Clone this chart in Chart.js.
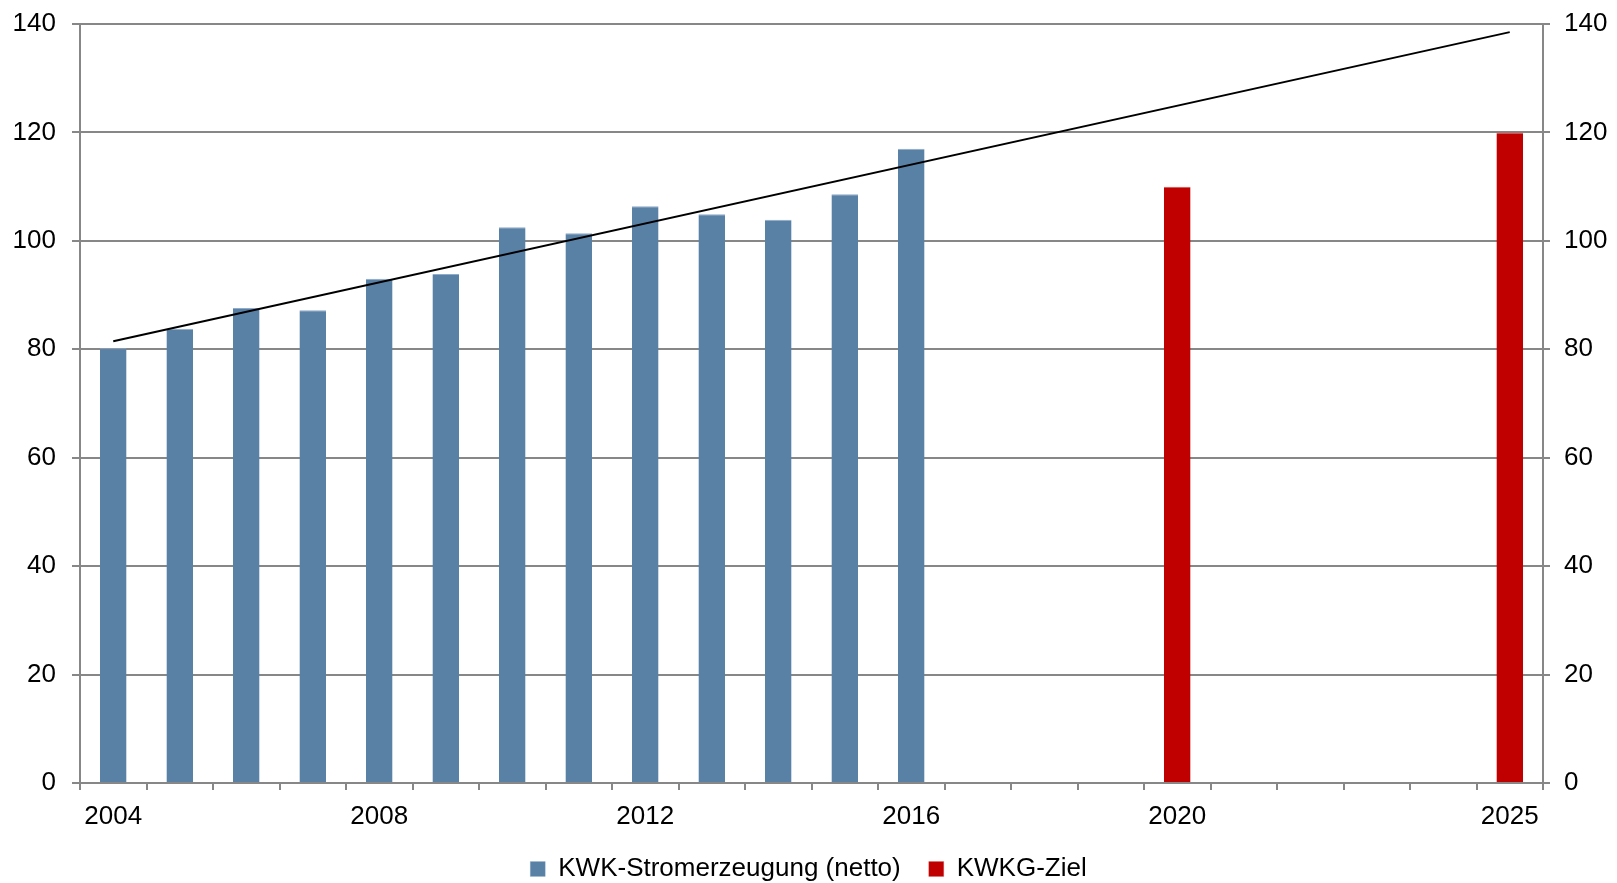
<!DOCTYPE html>
<html>
<head>
<meta charset="utf-8">
<script src="https://cdn.jsdelivr.net/npm/chart.js@4/dist/chart.umd.min.js"></script>
<style>
    html, body { margin: 0; padding: 0; background: #fff; }
    #wrap { width: 1617px; height: 883px; }
</style>
</head>
<body>
<div id="wrap"><canvas id="kwk-chart"></canvas></div>
<script>
// Jahre (Kategorien)
const years = ['2004','2005','2006','2007','2008','2009','2010','2011','2012','2013','2014',
               '2015','2016','2017','2018','2019','2020','2021','2022','2023','2024','2025'];
// Beschriftete Jahre auf der x-Achse
const shownYears = ['2004','2008','2012','2016','2020','2025'];

// KWK-Stromerzeugung (netto), TWh
const kwkNetto = [80.2, 83.8, 87.6, 87.2, 93.0, 93.9, 102.5, 101.4, 106.4, 104.9, 103.9,
                  108.6, 117.0, null, null, null, null, null, null, null, null, null];
// KWKG-Ziel
const kwkgZiel = [null, null, null, null, null, null, null, null, null, null, null,
                  null, null, null, null, null, 110, null, null, null, null, 120];
const trend = [81.5, null, null, null, null, null, null, null, null, null, null,
               null, null, null, null, null, null, null, null, null, null, 138.5];

const yTicks = { min: 0, max: 140, step: 20 };

const font = { family: '"Liberation Sans", Arial, sans-serif', size: 26 };
const axisGray = '#878787';

const ctx = document.getElementById('kwk-chart');

new Chart(ctx, {
    type: 'bar',
    data: {
        labels: years,
        datasets: [
            {
                type: 'line',
                label: 'Trend',
                data: trend,
                borderColor: '#000',
                borderWidth: 2,
                pointRadius: 0,
                spanGaps: true,
                fill: false,
                order: 0,
                yAxisID: 'y'
            },
            {
                label: 'KWK-Stromerzeugung (netto)',
                data: kwkNetto,
                backgroundColor: '#5981A6',
                borderColor: '#8FAACB',
                borderWidth: { top: 1, left: 0, right: 0, bottom: 0 },
                grouped: false,
                order: 1,
                yAxisID: 'y'
            },
            {
                label: 'KWKG-Ziel',
                data: kwkgZiel,
                backgroundColor: '#C00000',
                borderColor: '#D65050',
                borderWidth: { top: 1, left: 0, right: 0, bottom: 0 },
                grouped: false,
                order: 1,
                yAxisID: 'y'
            }
        ]
    },
    options: {
        responsive: true,
        maintainAspectRatio: false,
        animation: false,
        barPercentage: 0.4,
        categoryPercentage: 1,
        layout: { padding: 0 },
        plugins: {
            legend: {
                position: 'bottom',
                maxHeight: 55,
                labels: {
                    font: font,
                    color: '#000',
                    boxWidth: 15,
                    boxHeight: 15,
                    padding: 28,
                    filter: item => item.text !== 'Trend'
                }
            },
            tooltip: { enabled: false }
        },
        scales: {
            x: {
                offset: true,
                border: { color: axisGray, width: 2 },
                grid: {
                    offset: true,
                    drawOnChartArea: false,
                    drawTicks: true,
                    tickLength: 7,
                    color: axisGray,
                    lineWidth: 2
                },
                ticks: {
                    autoSkip: false,
                    maxRotation: 0,
                    font: font,
                    color: '#000',
                    padding: 11,
                    callback: function(value) {
                        const y = this.getLabelForValue(value);
                        return shownYears.includes(y) ? y : '';
                    }
                },
                afterFit: scale => {
                    scale.height = 45;
                    scale.paddingLeft = 0;
                    scale.paddingRight = 0;
                }
            },
            y: {
                position: 'left',
                min: yTicks.min,
                max: yTicks.max,
                border: { color: axisGray, width: 2 },
                grid: { color: axisGray, lineWidth: 2, tickLength: 8 },
                ticks: { stepSize: yTicks.step, font: font, color: '#000', padding: 16 },
                afterFit: scale => {
                    scale.width = 80;
                    scale.paddingTop = 24;
                    scale.paddingBottom = 0;
                }
            },
            y2: {
                position: 'right',
                min: yTicks.min,
                max: yTicks.max,
                border: { color: axisGray, width: 2 },
                grid: { drawOnChartArea: false, color: axisGray, lineWidth: 2, tickLength: 7 },
                ticks: { stepSize: yTicks.step, font: font, color: '#000', padding: 14 },
                afterFit: scale => {
                    scale.width = 74;
                    scale.paddingTop = 24;
                    scale.paddingBottom = 0;
                }
            }
        }
    }
});
</script>
</body>
</html>
